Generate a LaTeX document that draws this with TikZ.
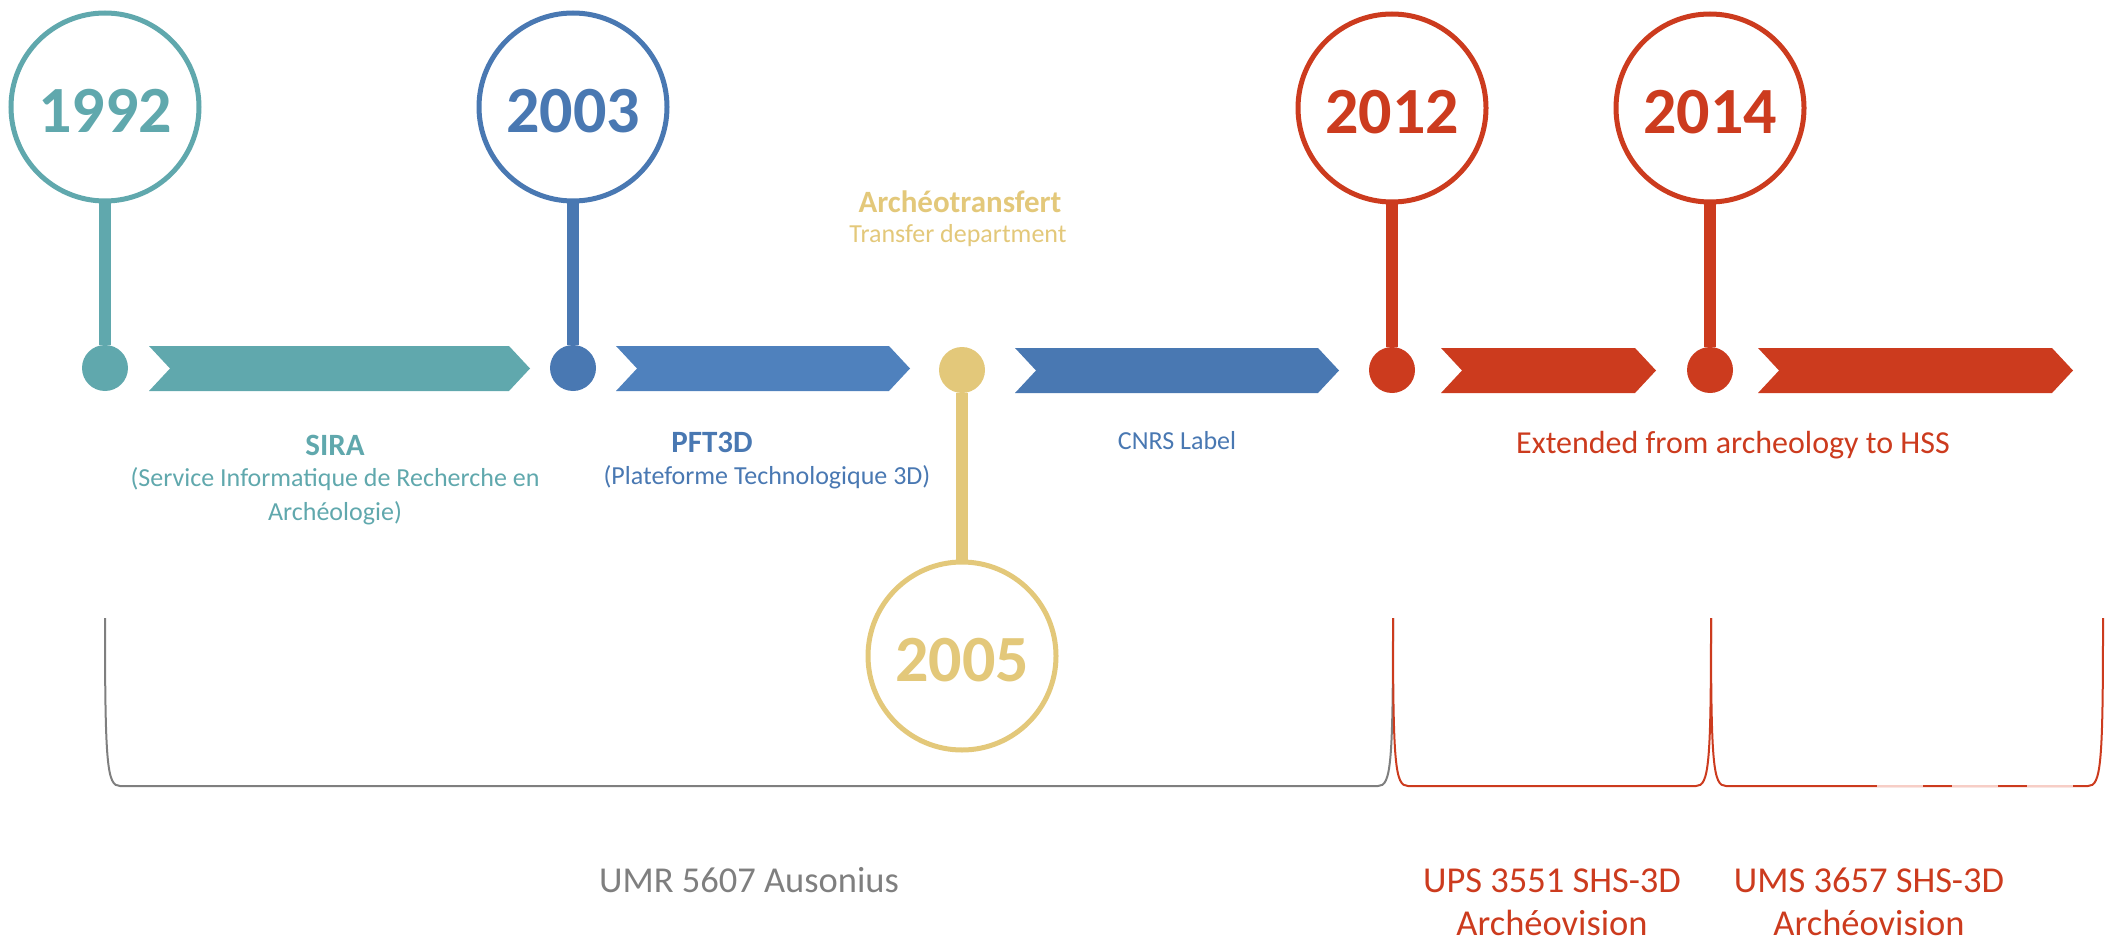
\documentclass[tikz,border=0pt]{standalone}
\usepackage{fontspec}
\setmainfont{Carlito}
\usepackage{xcolor}
\usepackage{tikz}
\usetikzlibrary{positioning}

\definecolor{tealc}{RGB}{96,168,173}
\definecolor{bluec}{RGB}{73,120,178}
\definecolor{bluelight}{RGB}{79,129,189}
\definecolor{yellowc}{RGB}{227,200,122}
\definecolor{redc}{RGB}{204,59,30}
\definecolor{grayc}{RGB}{127,127,127}
\definecolor{pinkc}{RGB}{247,206,198}

\tikzset{
  yearball/.style={circle, draw=#1, line width=5pt, fill=white, minimum size=188pt,
    inner sep=0pt, text=#1, text height=51pt, text depth=0pt,
    font=\fontsize{66}{66}\selectfont\bfseries},
  dot/.style={circle, fill=#1, minimum size=46pt, inner sep=0pt},
  stem/.style={draw=#1, line width=12pt},
  desc/.style={text=#1, align=center, inner sep=0pt, font=\fontsize{26}{34}\selectfont},
  title/.style={text=#1, align=center, inner sep=0pt, font=\fontsize{31}{34}\selectfont\bfseries},
  unit/.style={text=#1, align=center, inner sep=0pt, font=\fontsize{36.5}{43}\selectfont},
  bracket/.style={draw=#1, line width=2pt}
}

% chevron: colour, left x, right x, middle y
\newcommand{\chevron}[4]{%
  \fill[#1] (#2,#4-22.5) -- (#3-21,#4-22.5) -- (#3,#4) -- (#3-21,#4+22.5)
    -- (#2,#4+22.5) -- (#2+21,#4) -- cycle;}

\begin{document}
\begin{tikzpicture}[x=1pt,y=-1pt]
        \useasboundingbox (0,0) rectangle (2111,941);

        % years
        \node[yearball=tealc] (y1992) at (105,107) {1992};
        \node[yearball=bluec] (y2003) at (573,107) {2003};
        \node[yearball=yellowc] (y2005) at (962,656) {2005};
        \node[yearball=redc] (y2012) at (1392,108) {2012};
        \node[yearball=redc] (y2014) at (1710,108) {2014};

        % dots on the time line
        \node[dot=tealc] (d1992) at (105,368) {};
        \node[dot=bluec] (d2003) at (573,368) {};
        \node[dot=yellowc] (d2005) at (962,370) {};
        \node[dot=redc] (d2012) at (1392,370) {};
        \node[dot=redc] (d2014) at (1710,370) {};

        \draw[stem=tealc] (y1992) -- (d1992);
        \draw[stem=bluec] (y2003) -- (d2003);
        \draw[stem=yellowc] (d2005) -- (y2005);
        \draw[stem=redc] (y2012) -- (d2012);
        \draw[stem=redc] (y2014) -- (d2014);

        % periods
        \chevron{tealc}{149}{530}{368.5}
        \chevron{bluelight}{616}{910}{368.5}
        \chevron{bluec}{1015}{1339}{370.5}
        \chevron{redc}{1441}{1656}{370.5}
        \chevron{redc}{1758}{2073}{370.5}

        \node[title=tealc] (sira) at (335,445) {SIRA};
        \node[desc=tealc] (siradesc) at (335,496) {(Service Informatique de Recherche en\\Archéologie)};
        \node[title=bluec] (pft) at (712,442) {PFT3D};
        \node[desc=bluec] (pftdesc) at (767,477) {(Plateforme Technologique 3D)};
        \node[title=yellowc] (transf) at (960,202) {Archéotransfert};
        \node[desc=yellowc] (transfdesc) at (958,236) {Transfer department};
        \node[desc=bluec] (cnrs) at (1177,441) {CNRS Label};
        \node[desc=redc, font=\fontsize{32}{38}\selectfont] (hss) at (1733,445) {Extended from archeology to HSS};

        % units
        \draw[bracket=grayc] (105,618) .. controls (105,765) and (107,786) .. (120,786)
            -- (1378,786) .. controls (1391,786) and (1393,765) .. (1393,618);
        \draw[bracket=redc] (1393,618) .. controls (1393,765) and (1395,786) .. (1408,786)
            -- (1696,786) .. controls (1709,786) and (1711,765) .. (1711,618);
        \draw[bracket=redc] (1711,618) .. controls (1711,765) and (1713,786) .. (1726,786)
            -- (2088,786) .. controls (2101,786) and (2103,765) .. (2103,618);
        \foreach \x in {1877,1952,2027}
            \draw[bracket=pinkc] (\x,786) -- ++(46,0);

        \node[unit=grayc] (umr) at (749,880) {UMR 5607 Ausonius};
        \node[unit=redc] (ups) at (1552,902) {UPS 3551 SHS-3D\\Archéovision};
        \node[unit=redc] (ums) at (1869,902) {UMS 3657 SHS-3D\\Archéovision};
    \end{tikzpicture}
\end{document}
